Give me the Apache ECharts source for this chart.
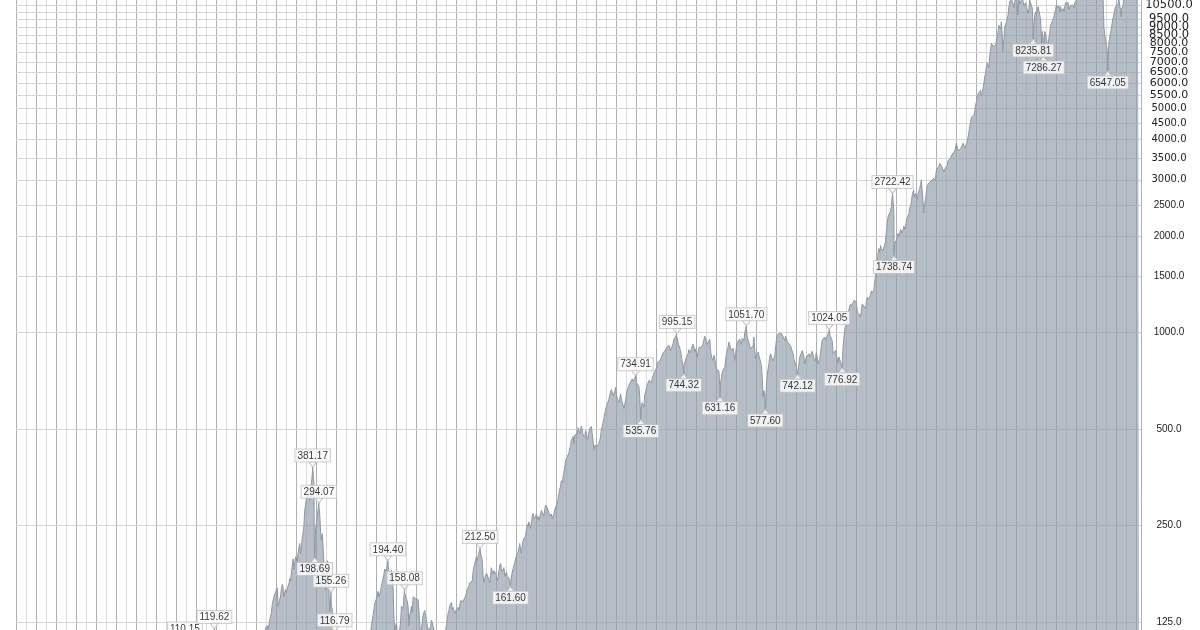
<!DOCTYPE html>
<html><head><meta charset="utf-8">
<script src="https://cdn.jsdelivr.net/npm/echarts@6/dist/echarts.min.js"></script>
<style>html,body{margin:0;padding:0;background:#fff;overflow:hidden}#c{width:1200px;height:630px}</style>
</head><body><div id="c"></div>
<script>
// ---- Dow Jones Industrial Average (log scale) ----
// sparse pre-1925 points [decimal year, value]
const earlyPoints = [[1900.0,68],[1901.45,78],[1902.5,65],[1903.85,42],[1904.9,69],[1906.05,103],[1906.8,92],[1907.9,53],[1908.9,86],[1909.85,100],[1910.55,74],[1911.4,87],[1911.7,73],[1912.8,94],[1913.45,72],[1914.5,78],[1914.95,54],[1915.9,99],[1916.3,85],[1917.95,66],[1918.8,88],[1919.1,80],[1920.3,105],[1920.97,67],[1921.64,64],[1922.8,103],[1923.2,105],[1923.8,86],[1924.4,89],[1924.96,120]];

// monthly (mid-month) values
const dow1920s = [121,122,118,119,127,130,134,142,144,150,151,155,
157,160,140,142,140,151,159,164,160,150,155,158,
154,159,160,165,171,168,178,188,197,183,192,200,
201,194,205,214,220,205,213,230,238,250,280,290,
305,315,305,315,300,320,340,360,368,340,205,245];
const dow1930s = [255,270,282,288,270,240,225,236,215,190,185,162,
168,185,178,155,135,148,140,138,110,100,110,85,
78,81,77,62,50,44,45,70,75,62,62,60,
62,53,58,70,85,95,104,100,98,90,98,99,
104,108,102,101,93,95,90,94,91,93,100,103,
104,102,98,107,112,117,122,127,131,137,143,144,
148,152,156,150,150,156,163,166,167,176,183,180,
184,188,190,178,174,169,182,182,160,130,117,122,
124,125,110,113,112,125,140,140,138,150,154,151,
150,145,140,122,132,135,140,134,150,152,150,148];
const dow1940s = [147,147,147,148,125,116,121,124,132,133,136,131,
130,122,123,117,116,121,127,126,127,119,115,111,
110,106,102,97,98,103,106,107,108,113,115,118,
122,128,133,136,141,143,144,137,139,138,133,134,
137,136,139,136,141,146,148,146,145,147,147,151,
154,158,156,162,166,166,164,168,180,186,190,192,
200,195,196,206,208,204,200,195,175,166,168,175,
178,180,176,170,166,175,185,180,177,181,182,180,
176,168,172,180,188,191,184,180,178,185,174,176,
179,174,176,175,170,164,173,179,181,188,191,198];
const dow1950s = [200,203,207,213,220,210,205,216,224,228,225,232,
244,252,248,257,250,245,255,268,273,263,260,268,
272,262,267,260,262,272,279,277,272,268,280,290,
290,285,282,274,275,268,272,263,262,272,280,282,
290,295,302,315,325,333,345,340,355,355,380,400,
405,410,412,422,425,445,462,465,475,450,480,485,
475,482,505,512,485,490,512,505,480,480,472,495,
485,465,472,490,502,505,510,485,460,430,445,440,
445,443,445,452,460,475,500,510,525,540,558,575,
590,600,605,620,640,640,665,665,635,640,655,675];
const dow1960s = [640,625,615,605,620,645,620,625,595,580,597,612,
645,660,675,685,695,690,700,718,705,700,720,728,
700,705,710,680,630,560,590,605,595,585,640,650,
675,670,680,710,720,710,700,720,735,750,740,760,
775,795,810,815,820,820,840,840,865,875,878,870,
895,900,895,915,920,880,875,890,925,955,955,960,
985,975,930,935,895,880,870,810,790,790,805,800,
840,845,860,885,880,865,895,905,920,905,870,890,
870,840,835,900,905,900,900,890,925,950,975,960,
940,920,915,930,955,880,840,830,820,850,830,790];
const dow1970s = [770,765,780,760,680,700,720,755,755,760,780,820,
860,880,900,935,920,895,880,880,895,860,820,860,
905,915,940,950,955,935,920,960,950,945,1000,1025,
1030,965,950,930,910,890,900,895,910,970,880,830,
850,860,870,850,830,820,790,720,630,660,640,600,
680,740,770,800,840,860,860,830,815,830,850,855,
950,980,990,995,985,990,995,985,990,960,945,975,
965,940,935,925,925,910,900,875,860,830,825,820,
780,755,755,800,840,840,845,880,880,840,800,810,
840,835,845,860,840,840,840,875,880,830,815,835];
const dow1980s = [870,880,800,790,830,870,910,950,940,950,970,950,
960,950,990,1005,985,995,960,940,860,850,860,880,
850,830,800,840,840,810,820,790,910,960,1030,1045,
1070,1100,1130,1180,1210,1230,1210,1200,1240,1260,1270,1260,
1250,1160,1160,1160,1140,1120,1110,1230,1220,1210,1210,1190,
1250,1290,1270,1270,1290,1320,1350,1330,1320,1360,1440,1520,
1530,1640,1780,1830,1780,1870,1830,1830,1800,1820,1890,1920,
2080,2200,2300,2280,2300,2400,2480,2680,2580,2350,1900,1920,
1950,2000,2040,2000,1980,2100,2120,2040,2060,2150,2100,2140,
2230,2290,2270,2350,2450,2490,2560,2700,2680,2650,2640,2720];
const dow1990s = [2660,2610,2720,2720,2820,2900,2960,2750,2550,2450,2520,2620,
2610,2880,2920,2930,2960,2970,2980,3000,3010,3030,2980,3050,
3220,3260,3240,3300,3370,3350,3320,3320,3280,3180,3230,3280,
3260,3330,3440,3440,3460,3510,3550,3610,3600,3650,3690,3740,
3900,3880,3700,3650,3720,3740,3720,3780,3900,3860,3760,3790,
3880,3950,4080,4230,4400,4530,4700,4650,4760,4760,4920,5140,
5250,5500,5550,5600,5600,5700,5480,5600,5800,6000,6300,6450,
6800,6950,6900,6700,7300,7700,8000,7900,7800,7900,7700,7900,
7800,8400,8700,9100,9050,8850,9150,8500,7900,8200,9000,9050,
9300,9300,9800,10400,10800,10700,11000,10900,10600,10300,10800,11300];
const dow2000s = [11500,10600,10300,11000,10600,10500,10600,11100,11200,10500,10600,10700,
10700,10700,9900,10200,10900,10700,10500,10300,9100,9200,9800,10000,
9850,9800,10400,10100,10000,9500,8300,8700,8300,7900,8700,8500,
8600,8000,7800,8300,8600,9100,9200,9350,9550,9700,9750,10200,
10550,10650,10300,10450,10000,10400,10100,10050,10250,10050,10400,10700,
10600,10750,10700,10200,10300,10500,10550,10600,10500,10300,10700,10800,
10900,10900,11100,11200,11300,10900,11000,11300,11500,11950,12300,12400,
12500,12650,12200,12700,13300,13500,13800,13100,13400,14000,13200,13400,
12400,12300,12200,12700,12900,12100,11300,11600,11100,9000,8500,8600,
8400,7600,7000,8000,8400,8600,8600,9300,9600,9800,10200,10400];
const dow2010s = [10500,10300,10600,11000,10400,10200,10200,10300,10500,11000,11200,11450,
11700,12100,12000,12300,12500,12100,12500,11200,11100,11500,11800,12100,
12500,12850,13100,13050];

// unlabelled turning points
const turnDates  = [1929.83,1930.96,1931.15,1932.52,1933.54,1938.25,1940.44,1942.32,1989.77,1990.54,1990.78,1998.54,1998.66,2000.04,2000.18,2002.56,2003.19,2007.77,2010.50];
const turnValues = [230,157.5,194.36,41.22,108.67,98.95,111.84,92.92,2791.41,2999.75,2365.10,9337.97,7539.07,11722.98,9796.03,7702.34,7524.06,14164.53,9686.48];

// labelled highs (label above) and lows (label below)
const peakDates  = [1916.89,1919.84,1929.67,1930.29,1931.49,1931.86,1937.19,1938.86,1946.41,1961.95,1966.11,1973.03,1981.32,1987.65];
const peakValues = [110.15,119.62,381.17,294.07,155.26,116.79,194.40,158.08,212.50,734.91,995.15,1051.70,1024.05,2722.42];
const troughDates  = [1929.87,1949.45,1962.49,1966.77,1970.40,1974.93,1978.16,1982.61,1987.80,2001.72,2002.77,2009.18];
const troughValues = [198.69,161.60,535.76,744.32,631.16,577.60,742.12,776.92,1738.74,8235.81,7286.27,6547.05];

// right axis tick labels / grid lines
const yTickValues = [125,250,500,1000,1500,2000,2500,3000,3500,4000,4500,5000,5500,6000,6500,7000,7500,8000,8500,9000,9500,10000,10500];
const yHiddenLabels = [10000];

// ---- build ----
function monthly(startYear, vals) { return vals.map((v, i) => [startYear + (i + 0.5) / 12, v]); }
const zip = (a, b) => a.map((d, i) => [d, b[i]]);
const peaks = zip(peakDates, peakValues);
const troughs = zip(troughDates, troughValues);
const lineData = [].concat(
  earlyPoints,
  monthly(1925, dow1920s), monthly(1930, dow1930s), monthly(1940, dow1940s),
  monthly(1950, dow1950s), monthly(1960, dow1960s), monthly(1970, dow1970s),
  monthly(1980, dow1980s), monthly(1990, dow1990s), monthly(2000, dow2000s),
  monthly(2010, dow2010s),
  zip(turnDates, turnValues), peaks, troughs
).sort((a, b) => a[0] - b[0]);

function tickLabelStyle(v) {
  if (v <= 2500) return { fontSize: 10, fontFamily: '"Liberation Sans", Arial, sans-serif' };
  if (v <= 5000) return { fontSize: 10, fontFamily: '"DejaVu Sans", Verdana, sans-serif' };
  if (v <= 8000) return { fontSize: 11, fontFamily: '"DejaVu Sans", Verdana, sans-serif' };
  return { fontSize: 11.5, fontFamily: '"DejaVu Sans", Verdana, sans-serif' };
}

const boxLabel = {
  show: true, color: '#000', fontSize: 10, fontFamily: '"Liberation Sans", Arial, sans-serif',
  backgroundColor: '#fff', borderColor: '#c4c4c4', borderWidth: 1, padding: [1, 2, 0, 2], lineHeight: 11,
  formatter: p => p.value[1].toFixed(2)
};

const chart = echarts.init(document.getElementById('c'), null, { renderer: 'canvas' });
chart.setOption({
  animation: false,
  backgroundColor: '#ffffff',
  grid: { left: 16, right: 59, top: 0, bottom: 0 },
  xAxis: {
    type: 'value', min: 1900, max: 2012.5, interval: 2,
    axisLine: { show: false }, axisTick: { show: false }, axisLabel: { show: false },
    splitLine: { show: true, lineStyle: { color: '#b0b0b0', width: 1 } },
    minorTick: { show: false, splitNumber: 2 },
    minorSplitLine: { show: true, lineStyle: { color: '#dadada', width: 1 } }
  },
  yAxis: {
    type: 'log', logBase: 10, position: 'right', min: 118.2, max: 10912,
    axisLine: { show: true, lineStyle: { color: '#b0b0b0' } },
    axisTick: { show: false }, axisLabel: { show: false },
    splitLine: { show: false }, minorTick: { show: false }, minorSplitLine: { show: false }
  },
  series: [
    {
      name: 'grid', type: 'line', data: [], z: 1, silent: true,
      markLine: {
        z: 1, silent: true, symbol: ['none', 'none'], animation: false,
        lineStyle: { color: '#d6d6d6', width: 1, type: 'solid' },
        emphasis: { disabled: true },
        label: {
          show: true, position: 'end', distance: 28, align: 'center', color: '#222',
          formatter: p => Number(p.value).toFixed(1)
        },
        data: yTickValues.map(v => ({
          yAxis: v,
          label: Object.assign({ show: yHiddenLabels.indexOf(v) < 0 }, tickLabelStyle(v))
        }))
      }
    },
    {
      name: 'DJIA', type: 'line', data: lineData, z: 2, silent: true,
      showSymbol: false, symbol: 'none',
      lineStyle: { color: '#8f98a3', width: 1 },
      areaStyle: { color: 'rgba(146,157,171,0.68)', opacity: 1 }
    },
    {
      name: 'highs', type: 'scatter', data: peaks, z: 5, silent: true, clip: false,
      symbol: 'path://M0,0L8,0L4,5Z', symbolSize: [8, 5], symbolOffset: [0, -2.5],
      itemStyle: { color: '#fff', borderColor: '#b8b8b8', borderWidth: 1 },
      label: Object.assign({ position: 'top', distance: 0 }, boxLabel)
    },
    {
      name: 'lows', type: 'scatter', data: troughs, z: 5, silent: true, clip: false,
      symbol: 'path://M4,0L8,5L0,5Z', symbolSize: [8, 5], symbolOffset: [0, 2.5],
      itemStyle: { color: '#fff', borderColor: '#b8b8b8', borderWidth: 1 },
      label: Object.assign({ position: 'bottom', distance: 0 }, boxLabel)
    }
  ]
});
</script>
</body></html>
